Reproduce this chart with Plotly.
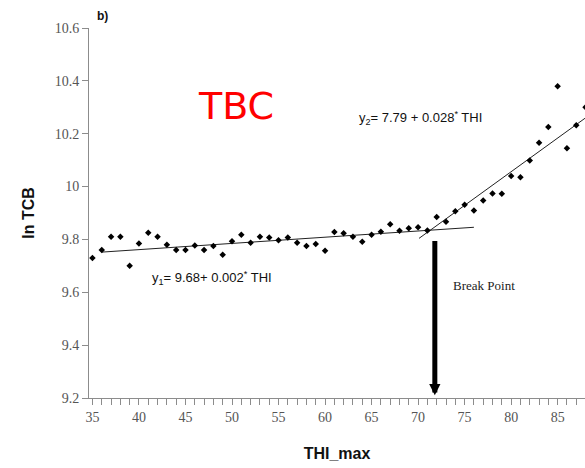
import plotly.graph_objects as go

# Data
thi = list(range(35, 89))
ln_tcb = [9.73, 9.76, 9.81, 9.81, 9.70, 9.785, 9.825, 9.81, 9.78, 9.76,
          9.76, 9.777, 9.76, 9.775, 9.742, 9.793, 9.818, 9.787, 9.81, 9.807,
          9.797, 9.807, 9.787, 9.775, 9.783, 9.757, 9.828, 9.823, 9.81, 9.791,
          9.818, 9.829, 9.857, 9.833, 9.842, 9.846, 9.834, 9.885, 9.867, 9.907,
          9.931, 9.909, 9.947, 9.974, 9.973, 10.04, 10.035, 10.099, 10.166, 10.225,
          10.38, 10.145, 10.232, 10.30]

line1_x = [36, 76]
line1_y = [9.752, 9.846]
line2_x = [70.1, 88.0]
line2_y = [9.804, 10.26]

x_ticks = [35, 40, 45, 50, 55, 60, 65, 70, 75, 80, 85]
y_ticks = [9.2, 9.4, 9.6, 9.8, 10.0, 10.2, 10.4, 10.6]
y_tick_labels = ["9.2", "9.4", "9.6", "9.8", "10", "10.2", "10.4", "10.6"]

break_x = 71.8
break_top = 9.80
break_bottom = 9.21

fig = go.Figure()
fig.add_trace(go.Scatter(x=line1_x, y=line1_y, mode="lines",
                         line=dict(color="#222222", width=1), showlegend=False))
fig.add_trace(go.Scatter(x=line2_x, y=line2_y, mode="lines",
                         line=dict(color="#222222", width=1), showlegend=False))
fig.add_trace(go.Scatter(x=thi, y=ln_tcb, mode="markers",
                         marker=dict(symbol="diamond", size=5, color="black"),
                         showlegend=False))

serif = "Liberation Serif"
sans = "Liberation Sans"

W, H = 585, 468
l, r, t, b = 89, 0, 28, 70
pw, ph = W - l - r, H - t - b


def px_ann(px, py, text, font):
    return dict(x=(px - l) / pw, y=1 - (py - t) / ph, xref="paper", yref="paper",
                xanchor="center", yanchor="middle", text=text, showarrow=False, font=font)


fig.update_layout(
    width=W, height=H,
    margin=dict(l=l, r=r, t=t, b=b),
    paper_bgcolor="white", plot_bgcolor="white",
    xaxis=dict(range=[34.63, 87.94], tickvals=x_ticks, ticks="outside", ticklen=6,
               tickcolor="#8c8c8c", showline=True, linecolor="#8c8c8c", linewidth=1,
               showgrid=False, zeroline=False,
               minor=dict(dtick=1, tick0=35, ticks="outside", ticklen=6, tickcolor="#8c8c8c"),
               tickfont=dict(family=serif, size=14, color="#555555"),
               title=dict(text="<b>THI_max</b>", font=dict(family=sans, size=16, color="#111111"),
                          standoff=24)),
    yaxis=dict(range=[9.2, 10.6], tickvals=y_ticks, ticktext=y_tick_labels,
               ticks="outside", ticklen=6, tickcolor="#8c8c8c",
               showline=True, linecolor="#8c8c8c", linewidth=1,
               showgrid=False, zeroline=False,
               tickfont=dict(family=serif, size=14, color="#555555"),
               title=dict(text="<b>ln TCB</b>", font=dict(family=sans, size=16, color="#111111"),
                          standoff=16)),
    annotations=[
        dict(x=break_x, y=break_bottom, ax=break_x, ay=break_top, xref="x", yref="y",
             axref="x", ayref="y", text="", showarrow=True, arrowhead=2, arrowsize=0.45,
             arrowwidth=5, arrowcolor="black"),
        dict(x=77.1, y=9.627, xref="x", yref="y", xanchor="center", yanchor="middle",
             text="Break Point", showarrow=False,
             font=dict(family=serif, size=13, color="#222222")),
        px_ann(236, 106, "TBC", dict(family="DejaVu Sans", size=38, color="#ff0000")),
        px_ann(420, 118, "y<sub>2</sub>= 7.79 + 0.028<sup>*</sup> THI",
               dict(family=sans, size=13, color="#111111")),
        px_ann(212, 278, "y<sub>1</sub>= 9.68+ 0.002<sup>*</sup> THI",
               dict(family=sans, size=13, color="#111111")),
        px_ann(102, 16, "<b>b)</b>", dict(family=sans, size=12, color="#111111")),
    ],
)

fig.write_html("out.html")
